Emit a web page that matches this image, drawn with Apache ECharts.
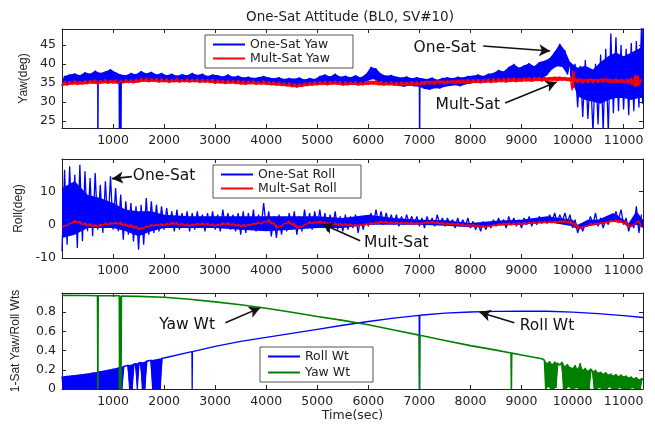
<!DOCTYPE html>
<html><head><meta charset="utf-8">
<script src="https://cdn.jsdelivr.net/npm/echarts@6/dist/echarts.min.js"></script>
<style>html,body{margin:0;padding:0;background:#fff}#c{width:655px;height:430px}</style>
</head><body><div id="c"></div>
<script>
// ---------------- data ----------------
const STEP = 50;            // sample spacing (sec) of the noisy traces, starting at t = 0
const X_TICKS = [1000,2000,3000,4000,5000,6000,7000,8000,9000,10000,11000];
const YAW_TICKS = [25,30,35,40,45];
const ROLL_TICKS = [-10,0,10];
const WT_TICKS = [0,0.2,0.4,0.6,0.8];

const yawOne = [
34.2,36.8,34.6,37.2,35.0,37.5,35.2,37.0,35.3,37.8,
35.1,37.4,35.5,38.2,34.9,37.6,35.4,38.0,35.2,38.6,
35.6,37.8,35.0,37.2,35.3,37.0,35.5,37.6,35.0,37.3,
35.6,38.1,35.8,37.5,35.4,37.9,35.7,37.2,35.5,37.6,
35.3,37.0,35.6,37.4,35.2,36.9,35.5,37.3,35.4,37.0,
35.6,37.6,35.2,37.1,35.5,37.4,35.3,36.8,35.6,37.2,
35.1,37.0,35.3,36.7,34.9,37.2,35.2,36.6,35.0,36.9,
35.2,36.4,34.9,36.6,35.1,36.3,34.8,36.5,35.0,36.8,
34.7,36.4,34.9,36.2,34.6,36.5,34.8,36.0,34.5,36.3,
34.0,36.1,34.3,36.4,34.5,35.9,34.2,36.3,34.6,36.0,
34.7,36.8,34.9,37.2,34.6,36.7,35.0,37.4,34.8,36.6,
34.6,36.9,34.5,36.5,34.8,37.0,34.6,36.4,34.9,37.3,
35.6,39.2,36.0,38.8,35.3,37.4,34.8,36.9,34.6,37.1,
34.5,36.6,34.2,36.4,34.0,36.7,34.3,36.2,34.1,36.5,
34.0,36.2,33.4,36.0,33.2,36.4,33.6,35.8,33.5,36.3,
34.0,36.5,34.2,36.2,34.4,36.6,34.1,36.4,34.6,36.8,
34.8,36.9,35.0,37.2,35.2,36.8,35.1,37.4,35.4,37.6,
35.5,38.4,35.8,38.0,35.6,39.2,36.0,40.0,35.8,39.0,
36.0,39.6,36.2,40.2,35.9,39.4,36.3,40.5,36.1,40.8,
37.0,41.5,38.6,43.2,39.4,45.3,39.2,43.6,37.2,40.5,
36.0,40.0,28.5,39.5,26.0,41.0,25.5,38.0,22.0,40.0,
24.0,42.5,22.5,44.0,22.0,48.0,27.0,47.0,27.5,45.0,
28.0,44.0,26.5,45.5,27.5,46.0,28.5,49.5];
const yawOneSpikes = [[692,36.6],[702,14],[710,36.6],[1118,36.4],[1126,14],[1134,36.6],[1146,36.6],[1154,14],[1162,36.4],[6992,35.2],[7004,14],[7012,35.4],[11372,29.5],[11380,49.5]];
// dense core of the one-sat yaw trace after 9950 s: [time, low, high]
const yawOneCore = [[9950,37.0,40.5],[10100,31.5,39.0],[10250,30.5,39.5],[10400,30.0,38.5],[10550,29.5,40.5],
  [10700,30.5,42.0],[10850,31.0,43.0],[11000,31.0,42.0],[11150,30.5,43.0],[11300,31.0,44.0],[11380,31.0,45.0]];

const yawMult = [
34.4,35.5,34.3,35.4,34.6,35.6,34.5,35.4,34.6,35.6,
34.7,35.7,34.8,35.8,34.6,35.6,34.9,35.9,34.8,35.7,
34.9,35.8,34.7,35.7,34.9,35.9,35.0,35.8,34.9,36.0,
35.1,36.2,35.3,36.3,35.2,36.1,35.3,36.2,35.1,36.1,
35.2,36.1,35.0,36.0,35.2,36.2,35.1,36.0,35.2,36.1,
35.1,36.0,35.2,36.1,35.0,36.0,35.1,35.9,35.0,36.0,
34.8,35.8,34.9,35.7,34.7,35.8,34.8,35.6,34.7,35.7,
34.6,35.6,34.5,35.5,34.7,35.6,34.5,35.4,34.6,35.6,
34.5,35.4,34.4,35.3,34.3,35.2,34.2,35.0,34.1,35.1,
33.9,34.9,33.8,34.8,34.0,35.0,34.2,35.2,34.3,35.3,
34.4,35.4,34.5,35.5,34.4,35.4,34.6,35.5,34.5,35.4,
34.3,35.3,34.4,35.3,34.5,35.4,34.3,35.2,34.4,35.4,
34.5,35.5,34.6,35.6,34.4,35.4,34.3,35.2,34.4,35.3,
34.3,35.2,34.2,35.3,34.3,35.2,34.4,35.4,34.3,35.3,
34.4,35.4,34.5,35.5,34.6,35.5,34.5,35.6,34.7,35.6,
34.6,35.6,34.8,35.7,34.7,35.8,34.9,35.8,34.8,35.9,
34.9,35.9,35.0,36.0,34.9,36.0,35.1,36.1,35.0,36.1,
35.1,36.2,35.2,36.2,35.1,36.3,35.3,36.3,35.2,36.2,
35.3,36.3,35.4,36.4,35.3,36.4,35.5,36.5,35.4,36.5,
35.5,36.5,35.6,36.6,35.5,36.6,35.6,36.5,35.5,36.4,
35.2,36.3,35.0,36.1,34.9,36.0,35.0,36.1,34.9,36.0,
35.0,36.1,35.1,36.2,35.0,36.0,34.9,36.1,35.0,36.0,
34.9,36.0,34.8,36.3,34.2,36.9,34.3,35.9];
const yawMultSpikes = [[9985,35.9],[9993,33.0],[10003,38.3],[10013,35.2],[10022,33.6],[10032,37.8],[10042,35.5],
  [11212,34.0],[11222,37.1],[11232,33.9],[11242,37.0],[11258,34.1],[11268,36.8],[11278,34.2],[11288,36.9]];

const rollOne = [
-8.0,16.5,-6.0,17.5,-3.0,15.0,-7.0,18.0,-5.0,16.0,
-2.0,14.0,-3.5,15.5,-1.5,12.0,-2.5,13.0,-1.0,14.5,
-1.5,11.0,-2.0,9.0,-4.5,7.0,-3.0,6.5,-5.0,5.5,
-7.5,6.0,-6.0,8.0,-3.0,7.0,-2.5,6.0,-2.0,5.5,
-1.5,5.0,-1.0,4.0,-2.0,4.5,-1.5,3.5,-1.0,4.0,
-2.0,3.5,-1.5,4.0,-1.0,3.0,-2.0,3.5,-1.0,4.0,
-1.5,3.0,-2.0,4.5,-1.0,3.5,-1.5,3.0,-2.0,3.5,
-3.0,4.0,-2.5,3.5,-1.5,4.5,-2.0,3.0,-1.0,6.5,
-1.0,4.0,-3.5,2.5,-4.0,3.0,-3.0,2.0,-2.0,3.5,
-1.5,4.0,-3.0,2.5,-2.0,4.5,-1.0,3.5,-1.5,4.0,
-0.5,4.5,-1.0,3.5,-2.0,3.0,-1.0,4.0,-1.5,2.5,
-2.0,3.0,-1.5,2.5,-1.0,3.0,-2.5,2.0,-1.5,2.5,
-0.5,3.5,0.0,4.5,0.5,4.0,0.0,3.5,0.5,3.0,
0.0,3.0,-0.5,2.5,0.0,3.0,0.5,2.5,0.0,2.5,
-0.5,2.0,-1.0,2.5,0.0,2.0,-0.5,3.0,0.0,2.0,
-0.5,2.0,0.0,1.5,-1.0,2.0,-0.5,1.5,-0.5,2.0,
-1.0,1.0,-1.5,0.5,-2.0,1.0,-1.5,0.5,-1.0,1.5,
-0.5,2.0,0.0,1.5,-1.0,2.5,0.0,2.0,-0.5,1.5,
-1.0,2.0,0.0,2.5,-0.5,1.5,0.0,2.5,0.5,2.0,
0.5,3.0,1.0,3.5,0.5,3.0,1.0,3.5,0.5,3.0,
-1.0,1.5,-2.5,0.0,-2.0,0.5,-0.5,2.5,0.0,3.5,
-0.5,2.0,-1.0,1.5,0.0,2.5,1.0,4.0,1.5,4.5,
0.0,2.0,-2.0,1.0,-1.0,5.5,-2.5,3.0];
// dense core of the one-sat roll trace: [time, low, high]
const rollOneCore = [[0,-4,11],[250,-3,13],[500,-1,9],[750,-1,8],[1000,-1,6.5],[1250,-2,4.5],[1500,-3.5,4],
  [1750,-2,4],[2000,-1,3],[2500,-1,2.5],[3000,-1,2.5],[3500,-1.5,2.5],[4000,-2,2.5],[4500,-1.5,2.5],
  [5000,-1,2.5],[5500,-1,2],[6000,0,3],[6500,0,2],[7000,0,1.5],[7500,-0.3,1.3],[8000,-0.8,0.5],
  [8500,-0.3,1.2],[9000,0,1.5],[9500,0.8,2.5],[10000,-0.5,1.5],[10100,-1.5,0],[10300,-0.5,1.5],
  [10500,0,1.5],[10800,1.2,3.5],[11000,0.5,1.5],[11100,-1,0.5],[11250,0,4],[11380,-1,1.5]];

const rollMult = [
-0.8,-0.2,-0.3,0.4,0.5,1.3,0.6,1.0,0.0,0.5,
-0.3,0.3,-0.6,0.0,-0.6,0.1,-0.2,0.5,0.0,0.6,
0.2,0.8,0.1,0.7,-0.3,0.3,-0.6,0.0,-1.0,-0.4,
-1.6,-1.0,-1.2,-0.5,-0.6,0.0,-0.4,0.2,-0.3,0.3,
-0.3,0.4,0.0,0.7,0.1,0.6,-0.2,0.4,-0.3,0.2,
-0.5,0.1,-0.3,0.4,-0.1,0.5,-0.1,0.4,-0.3,0.2,
-0.5,0.1,-0.2,0.5,0.0,0.6,-0.2,0.3,-0.4,0.1,
-0.6,0.0,-0.5,0.1,-0.2,0.4,0.1,0.7,0.2,0.9,
0.9,1.5,0.2,0.6,-1.1,-0.5,-0.5,0.3,0.4,1.1,
-0.1,0.4,-1.1,-0.5,-0.7,0.0,0.2,0.9,0.3,0.9,
0.5,1.1,0.3,0.8,0.0,0.6,-0.1,0.5,-0.2,0.4,
-0.3,0.3,-0.4,0.2,-0.5,0.1,-0.5,0.1,-0.3,0.3,
0.0,0.6,0.2,0.8,0.4,1.1,0.5,1.0,0.3,0.9,
0.3,0.9,0.2,0.8,0.3,0.8,0.1,0.7,0.1,0.6,
0.1,0.6,0.3,0.9,0.4,1.0,0.3,0.9,0.2,0.7,
0.0,0.6,0.0,0.5,-0.2,0.4,-0.3,0.3,-0.5,0.1,
-0.5,0.1,-0.7,-0.1,-0.9,-0.3,-0.8,-0.2,-0.6,0.0,
-0.3,0.3,-0.1,0.5,0.0,0.6,-0.1,0.5,0.0,0.6,
0.0,0.6,0.1,0.7,0.3,0.9,0.3,0.9,0.4,1.0,
0.4,1.0,0.5,1.1,0.6,1.2,0.7,1.3,0.6,1.2,
0.0,0.5,-1.3,-0.7,-1.0,-0.4,-0.3,0.3,0.0,0.5,
0.1,0.7,0.2,0.8,0.6,1.3,0.9,1.5,0.6,1.2,
0.4,1.0,-0.9,-0.3,0.0,0.6,1.2,-0.6];

// Roll weight: dense drop-outs 0..1975 s (upper edge at t=0,50,..; lower edge at t=25,75,..)
const rollWtFillTop = [
0.130,0.133,0.137,0.139,0.142,0.146,0.149,0.152,0.156,0.158,
0.161,0.166,0.171,0.175,0.181,0.186,0.190,0.196,0.201,0.206,
0.212,0.217,0.224,0.230,0.235,0.242,0.248,0.253,0.260,0.265,
0.271,0.277,0.282,0.289,0.295,0.300,0.305,0.310,0.315,0.320];
const rollWtFillLow = [
0,0,0,0,0,0,0,0,0,0,
0,0,0,0,0,0,0,0,0,0,
0,0,0,0,0.233,0.240,0,0,0.257,0,
0.268,0,0,0.285,0.291,0,0,0,0,0.322];
const rollWtCurve = [[2000,0.323],[2500,0.385],[3000,0.445],[3500,0.495],[4000,0.537],[4500,0.58],[5000,0.622],
  [5500,0.664],[6000,0.703],[6500,0.738],[7000,0.768],[7500,0.79],[8000,0.802],[8500,0.808],[9000,0.81],
  [9500,0.81],[10000,0.80],[10500,0.785],[11000,0.765],[11380,0.745]];
const rollWtSpikes = [[2545,0.389],[2550,0],[2555,0.39],[6996,0.768],[7002,0],[7008,0.768]];

const yawWtCurve = [[0,0.975],[500,0.974],[1000,0.972],[1500,0.965],[2000,0.955],[2500,0.935],[3000,0.908],
  [3500,0.878],[4000,0.842],[4500,0.80],[5000,0.756],[5500,0.715],[6000,0.67],[6500,0.615],[7000,0.56],
  [7500,0.505],[8000,0.452],[8500,0.405],[9000,0.355],[9400,0.315]];
const yawWtSpikes = [[695,0.972],[702,0],[709,0.972],[1122,0.971],[1128,0],[1136,0.97],[1148,0.97],[1156,0],[1164,0.969],
  [6996,0.561],[7003,0],[7010,0.56],[8795,0.375],[8802,0],[8809,0.374]];
// Yaw weight: dense drop-outs after 9450 s (upper edge at t=9450,9500,..; lower edge at t=9475,9525,..)
const yawWtNoiseTop = [
0.30,0.27,0.29,0.26,0.285,0.27,0.25,0.28,0.24,0.26,
0.23,0.22,0.25,0.21,0.27,0.20,0.22,0.19,0.21,0.18,
0.20,0.17,0.18,0.16,0.175,0.15,0.16,0.14,0.155,0.135,
0.15,0.13,0.14,0.12,0.13,0.11,0.125,0.10,0.11];
const yawWtNoiseLow = [
0,0.02,0,0,0.01,0.26,0.25,0,0,0.02,
0,0,0.01,0,0,0,0,0,0.19,0,
0,0.01,0,0,0,0.02,0,0,0,0.01,
0,0,0,0,0.01,0,0,0,0.10];

// annotation anchors (time, value)
const ANNOT_TEXT = [
  [0,'One-Sat',7500,44.3],[0,'Mult-Sat',7950,29.1],
  [1,'One-Sat',2000,14.7],[1,'Mult-Sat',6550,-5.6],
  [2,'Yaw Wt',2450,0.665],[2,'Roll Wt',9500,0.654]];
const ANNOT_ARROW = [
  [0,[8250,44.7],[9560,43.4]],[0,[8680,29.7],[9690,35.2]],
  [1,[1370,14.4],[980,13.8]],[1,[5840,-4.8],[5100,0.2]],
  [2,[3200,0.69],[3880,0.845]],[2,[8860,0.69],[8180,0.80]]];

// ---------------- helpers ----------------
function seq(vals, start, step){ return vals.map((v,i)=>[start+i*step, v]); }
function merge(){ const a=[].concat(...arguments); a.sort((p,q)=>p[0]-q[0]); return a; }
// split an alternating low/high trace into its two envelopes
function envelopes(vals){ const up=[], lo=[]; vals.forEach((v,i)=>(i%2?up:lo).push([i*STEP,v])); return [up,lo]; }
function coreEdges(core){ return [core.map(c=>[c[0],c[2]]), core.map(c=>[c[0],c[1]])]; }

const FONT = 'DejaVu Sans';
const XMIN = 0, XMAX = 11380;
const YR = [[23.1,49.2],[-10,19.7],[0,1]];
const YT = [YAW_TICKS, ROLL_TICKS, WT_TICKS];
const YNAME = ['Yaw(deg)','Roll(deg)','1-Sat Yaw/Roll Wts'];
const YGAP = [25,26,40];
const grids = [
  {left:62, top:29, width:581, height:99},
  {left:62, top:159, width:581, height:99},
  {left:62, top:293, width:581, height:96}];

const xAxis=[], yAxis=[];
for (let g=0; g<3; g++){
  for (const pos of ['bottom','top']){
    const ax = {type:'value', gridIndex:g, min:XMIN, max:XMAX, position:pos,
      axisLine:{show:true, onZero:false, lineStyle:{color:'#222', width:1}},
      axisTick:{show:true, inside:true, length:4, customValues:X_TICKS, lineStyle:{color:'#222'}},
      axisLabel:{show:pos==='bottom', customValues:X_TICKS, formatter:v=>String(v), fontFamily:FONT, fontSize:12.5, color:'#222', margin:6},
      splitLine:{show:false}};
    if (g===2 && pos==='bottom'){ ax.name='Time(sec)'; ax.nameLocation='middle'; ax.nameGap=20;
      ax.nameTextStyle={fontFamily:FONT, fontSize:12.5, color:'#222'}; }
    xAxis.push(ax);
  }
  for (const pos of ['left','right']){
    const ax = {type:'value', gridIndex:g, min:YR[g][0], max:YR[g][1], position:pos,
      axisLine:{show:true, onZero:false, lineStyle:{color:'#222', width:1}},
      axisTick:{show:true, inside:true, length:4, customValues:YT[g], lineStyle:{color:'#222'}},
      axisLabel:{show:pos==='left', customValues:YT[g], formatter:v=>String(v), fontFamily:FONT, fontSize:12.5, color:'#222', margin:6},
      splitLine:{show:false}};
    if (pos==='left'){ ax.name=YNAME[g]; ax.nameLocation='middle'; ax.nameGap=YGAP[g]; ax.nameRotate=90;
      ax.nameTextStyle={fontFamily:'Liberation Sans', fontSize:12, color:'#222'}; }
    yAxis.push(ax);
  }
}

function annot(g){
  return {
    markPoint:{silent:true, symbol:'rect', symbolSize:1, itemStyle:{color:'rgba(0,0,0,0)'},
      label:{show:true, position:'inside', fontFamily:FONT, fontSize:15.5, color:'#111'},
      data: ANNOT_TEXT.filter(a=>a[0]===g).map(a=>({name:a[1], coord:[a[2],a[3]], label:{formatter:a[1]}}))},
    markLine:{silent:true, symbol:['none','arrow'], symbolSize:[9,11], animation:false,
      lineStyle:{color:'#111', width:1.6, type:'solid'}, label:{show:false},
      data: ANNOT_ARROW.filter(a=>a[0]===g).map(a=>[{coord:a[1]},{coord:a[2]}])}
  };
}
function line(name, g, data, color, width, extra){
  return Object.assign({name, type:'line', xAxisIndex:g*2, yAxisIndex:g*2, data, symbol:'none',
    showSymbol:false, clip:true, animation:false, lineStyle:{color, width}, itemStyle:{color}}, extra||{});
}
// filled region covered by a dense trace, between its upper and lower edge
function band(g, upper, lower, color){
  return {type:'custom', xAxisIndex:g*2, yAxisIndex:g*2, clip:true, silent:true, animation:false,
    data:[[upper[0][0], upper[0][1]]],
    renderItem:(params, api)=>{
      if (params.dataIndex!==0) return null;
      const pts = upper.map(p=>api.coord(p)).concat(lower.slice().reverse().map(p=>api.coord(p)));
      return {type:'polygon', shape:{points:pts}, style:{fill:color}};
    }};
}

const [yawOneUp, yawOneLo] = envelopes(yawOne.slice(0,200));
const [yawCoreUp, yawCoreLo] = coreEdges(yawOneCore);
const [yawMultUp, yawMultLo] = envelopes(yawMult);
const [rollCoreUp, rollCoreLo] = coreEdges(rollOneCore);
const [rollMultUp, rollMultLo] = envelopes(rollMult);

const BLUE='#0000ff', RED='#ff0000', GREEN='#008000';
const series = [
  band(0, yawOneUp, yawOneLo, BLUE),
  band(0, yawCoreUp, yawCoreLo, BLUE),
  line('One-Sat Yaw',0, merge(seq(yawOne,0,STEP), yawOneSpikes), BLUE, 1.3),
  band(0, yawMultUp, yawMultLo, RED),
  line('Mult-Sat Yaw',0, merge(seq(yawMult,0,STEP), yawMultSpikes), RED, 1.3, annot(0)),
  band(1, rollCoreUp, rollCoreLo, BLUE),
  line('One-Sat Roll',1, seq(rollOne,0,STEP), BLUE, 1.3),
  band(1, rollMultUp, rollMultLo, RED),
  line('Mult-Sat Roll',1, seq(rollMult,0,STEP), RED, 1.3, annot(1)),
  band(2, seq(rollWtFillTop,0,50), seq(rollWtFillLow,25,50), BLUE),
  line('Roll Wt',2, merge(seq(rollWtFillTop,0,50), seq(rollWtFillLow,25,50), rollWtCurve, rollWtSpikes), BLUE, 1.3),
  band(2, seq(yawWtNoiseTop,9450,50), seq(yawWtNoiseLow,9475,50), GREEN),
  line('Yaw Wt',2, merge(yawWtCurve, yawWtSpikes, seq(yawWtNoiseTop,9450,50), seq(yawWtNoiseLow,9475,50), [[11380,0.10]]), GREEN, 1.6, annot(2))
];

function legend(names, left, top, gap, tw){
  return {data:names, left, top, orient:'vertical', icon:'rect', itemWidth:32, itemHeight:2, itemGap:gap,
    padding:[3,8,3,8], borderColor:'#555', borderWidth:1, backgroundColor:'#fff',
    textStyle:{fontFamily:FONT, fontSize:12.5, color:'#222', width:tw, lineHeight:13}, selectedMode:false};
}

const chart = echarts.init(document.getElementById('c'), null, {renderer:'canvas'});
chart.setOption({
  backgroundColor:'#fff', animation:false,
  title:{text:'One-Sat Attitude (BL0, SV#10)', left:345, textAlign:'center', top:5,
    textStyle:{fontFamily:FONT, fontSize:13.5, fontWeight:'normal', color:'#222'}},
  grid: grids.map(g=>Object.assign({containLabel:false, outerBoundsMode:'none'}, g)),
  xAxis, yAxis,
  legend:[legend(['One-Sat Yaw','Mult-Sat Yaw'],205,35,1,95),
          legend(['One-Sat Roll','Mult-Sat Roll'],213,165,1,95),
          legend(['Roll Wt','Yaw Wt'],260,347,3,60)],
  series
});
</script></body></html>
